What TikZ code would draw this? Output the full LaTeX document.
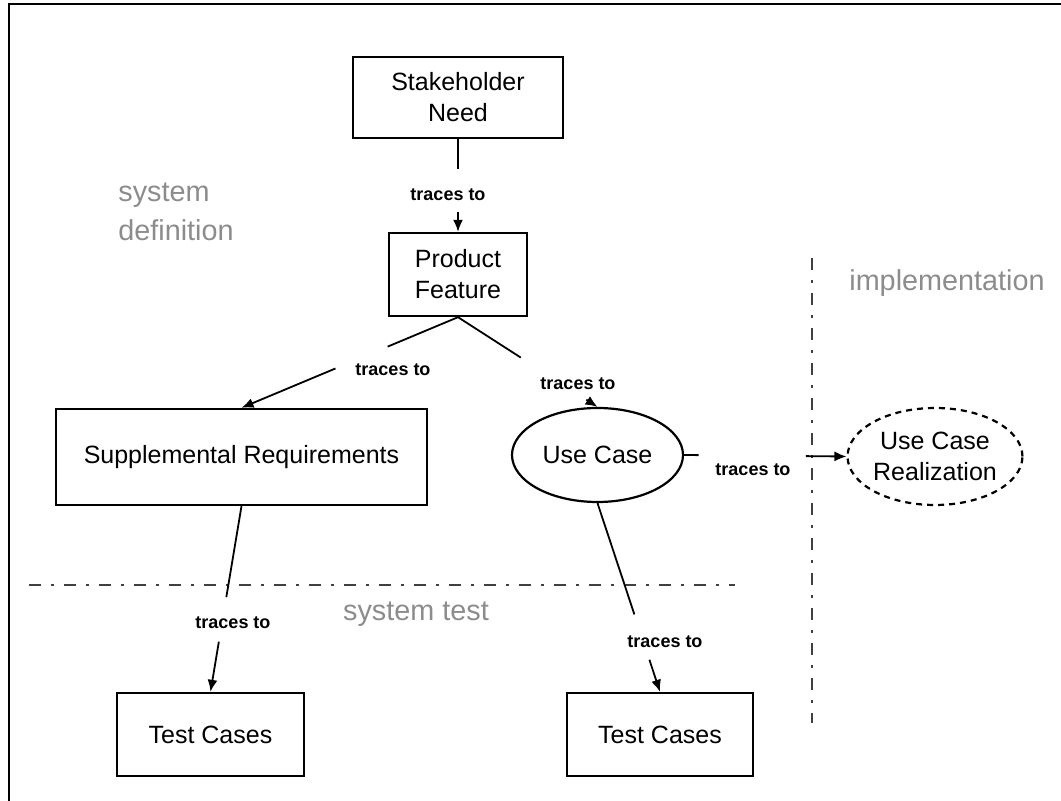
\documentclass[tikz,border=0pt]{standalone}
\usepackage{fontspec}
\setmainfont{Liberation Sans}
\usetikzlibrary{arrows.meta,calc,shapes.geometric,positioning}
\tikzset{
  box/.style={draw,line width=1.2pt,inner sep=0pt,align=center,font=\fontsize{12.5}{15.5}\selectfont},
  usecase/.style={ellipse,draw,line width=1.1pt,inner sep=0pt,align=center,font=\fontsize{12.5}{15.5}\selectfont},
  traces/.style={font=\bfseries\fontsize{9}{11}\selectfont,inner sep=1pt},
  region/.style={text=black!45,font=\fontsize{14.4}{19.5}\selectfont,align=left,inner sep=0pt},
  link/.style={line width=0.9pt},
  tracearrow/.style={link,-{Latex[length=6pt,width=5pt]}},
  divider/.style={line width=1.3pt,black!75,dash pattern=on 6pt off 5pt on 1.5pt off 5pt}
}

\begin{document}
\begin{tikzpicture}[x=0.5pt,y=-0.5pt]
    \useasboundingbox (0,0) rectangle (1061,801);

    % draw the frame
    \draw[line width=1.2pt] (9,801) -- (9,4) -- (1061,4);

    % draw the region dividers
    \draw[divider] (29,585) -- (735,585);
    \draw[divider] (812,258) -- (812,723);

    % label the regions
    \node[region,anchor=west] (sysdef) at (118,212) {system\\definition};
    \node[region] (impl) at (947,283) {implementation};
    \node[region] (systest) at (416,614) {system test};

    % draw the artifacts
    \node[box,minimum width=105pt,minimum height=40.5pt] (need) at (458,97.5) {Stakeholder\\Need};
    \node[box,minimum width=69pt,minimum height=41.5pt] (feat) at (458,274.5) {Product\\Feature};
    \node[box,minimum width=185.5pt,minimum height=48pt] (supp) at (241.5,457) {Supplemental Requirements};
    \node[usecase,minimum width=85.5pt,minimum height=47pt] (uc) at (597.5,455) {Use Case};
    \node[usecase,dash pattern=on 3pt off 2.5pt,minimum width=87pt,minimum height=48.5pt] (ucr) at (935,456.5) {Use Case\\Realization};
    \node[box,minimum width=93.5pt,minimum height=41.5pt] (tcsupp) at (210.5,734.5) {Test Cases};
    \node[box,minimum width=93pt,minimum height=41.5pt] (tcuc) at (660,734.5) {Test Cases};

    % label the traces
    \node[traces] (t1) at (448,195) {traces to};
    \node[traces] (t2) at (393,370) {traces to};
    \node[traces] (t3) at (578,384) {traces to};
    \node[traces] (t4) at (753,470) {traces to};
    \node[traces] (t5) at (233,623) {traces to};
    \node[traces] (t6) at (665,642) {traces to};

    % break points of the traces
    \coordinate (a1) at ($(need.south)!.32!(feat.north)$);
    \coordinate (b1) at ($(need.south)!.79!(feat.north)$);
    \coordinate (a2) at ($(feat.south)!.325!(supp.north)$);
    \coordinate (b2) at ($(feat.south)!.566!(supp.north)$);
    \coordinate (a3) at ($(feat.south)!.45!(uc.north)$);
    \coordinate (b3) at ($(feat.south)!.92!(uc.north)$);
    \coordinate (a4) at ($(uc.east)!.09!(ucr.west)$);
    \coordinate (b4) at ($(uc.east)!.75!(ucr.west)$);
    \coordinate (a5) at ($(supp.south)!.49!(tcsupp.north)$);
    \coordinate (b5) at ($(supp.south)!.73!(tcsupp.north)$);
    \coordinate (a6) at ($(uc.south)!.59!(tcuc.north)$);
    \coordinate (b6) at ($(uc.south)!.83!(tcuc.north)$);

    % draw the traces
    \draw[link] (need.south) -- (a1);
    \draw[tracearrow] (b1) -- (feat.north);
    \draw[link] (feat.south) -- (a2);
    \draw[tracearrow] (b2) -- (supp.north);
    \draw[link] (feat.south) -- (a3);
    \draw[tracearrow] (b3) -- (uc.north);
    \draw[link] (uc.east) -- (a4);
    \draw[tracearrow] (b4) -- (ucr.west);
    \draw[link] (supp.south) -- (a5);
    \draw[tracearrow] (b5) -- (tcsupp.north);
    \draw[link] (uc.south) -- (a6);
    \draw[tracearrow] (b6) -- (tcuc.north);
\end{tikzpicture}
\end{document}
